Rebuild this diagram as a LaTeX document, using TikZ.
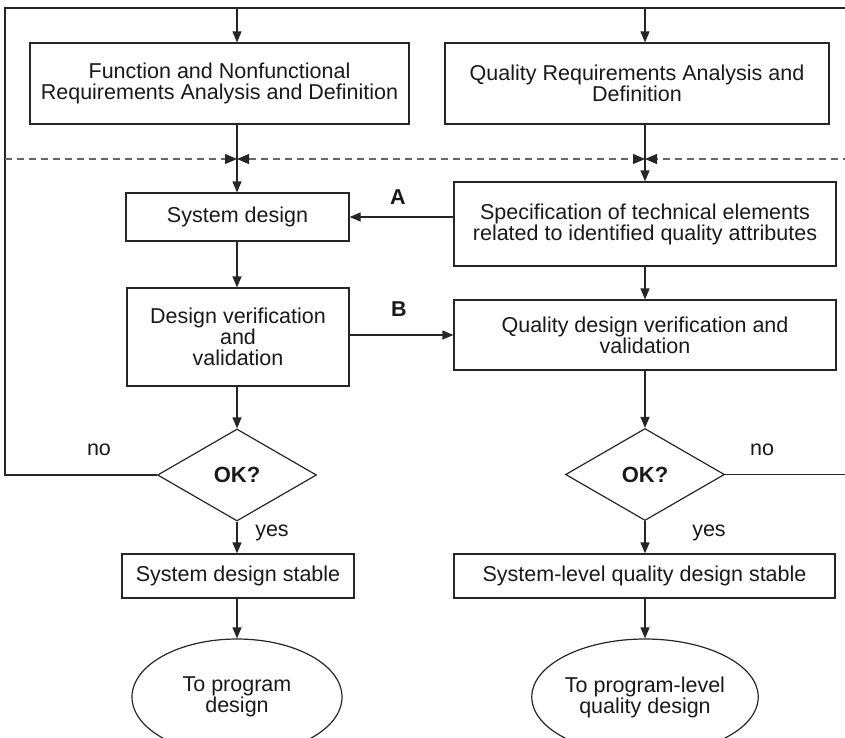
\documentclass[tikz,border=0pt]{standalone}
\usepackage{fontspec}
\setmainfont{Liberation Sans}
\usetikzlibrary{arrows.meta,shapes.geometric}

\begin{document}
\begin{tikzpicture}[x=1pt,y=-1pt,
  line width=1.2pt, draw=black!85,
  every node/.style={font=\fontsize{21.5}{21}\selectfont, text=black!90},
  box/.style={draw=black!85, align=center, inner sep=0pt},
  decision/.style={diamond, draw=black!85, inner sep=0pt,
    minimum width=159pt, minimum height=92pt,
    font=\fontsize{22}{22}\selectfont\bfseries},
  terminal/.style={ellipse, draw=black!85, inner sep=0pt, align=center,
    minimum width=210pt, minimum height=116pt},
  arr/.style={-{Triangle[length=11pt,width=9pt]}},
  sep/.style={draw=black!60, dash pattern=on 7pt off 5pt},
  septip/.tip={Triangle[length=12pt,width=10pt,color=black!85]},
  tag/.style={font=\fontsize{21.5}{21}\selectfont\bfseries}]

\clip (0,0) rectangle (845,737);

% column guides and frame corners
\coordinate (colL) at (237,0);
\coordinate (colR) at (645,0);
\coordinate (tl) at (5,8);
\coordinate (edgeR) at (850,8);
\coordinate (dl) at (5,159);
\coordinate (dr) at (850,159);

% boxes
\node[box, minimum width=379pt, minimum height=81pt] (fnr) at (219.5,83.5)
  {Function and Nonfunctional\\Requirements Analysis and Definition};
\node[box, minimum width=384pt, minimum height=81pt] (qra) at (637,83.5)
  {Quality Requirements Analysis and\\Definition};
\node[box, minimum width=223pt, minimum height=48pt] (sd) at (237.5,217)
  {System design};
\node[box, minimum width=382pt, minimum height=84pt] (spec) at (645,224)
  {Specification of technical elements\\related to identified quality attributes};
\node[box, minimum width=222pt, minimum height=98pt] (dvv) at (238,337)
  {Design verification\\and\\validation};
\node[box, minimum width=382pt, minimum height=70pt] (qdv) at (645,335)
  {Quality design verification and\\validation};
\node[decision] (okL) at (237,475) {OK?};
\node[decision] (okR) at (645,474.5) {OK?};
\node[box, minimum width=232pt, minimum height=44pt] (stL) at (238,576)
  {System design stable};
\node[box, minimum width=381pt, minimum height=44pt] (stR) at (644.5,576)
  {System-level quality design stable};
\node[terminal] (toL) at (237,697) {To program\\design};
\node[terminal] (toR) at (645,697) {To program-level\\quality design};

% labels
\node[tag] (lblA) at (398,197) {A};
\node[tag] (lblB) at (399,309) {B};
\node (noL) at (99,450) {no};
\node (noR) at (762,450) {no};
\node (yesL) at (272,533) {yes};
\node (yesR) at (709,533) {yes};

% feedback loops
\draw (okL.west) -| (tl) -- (edgeR);
\draw (okR.east) -- (okR.east -| edgeR);

% phase separator
\draw[sep, -septip] (dl) -- (dl -| colL);
\draw[sep, septip-septip] (dl -| colL) -- (dl -| colR);
\draw[sep, -septip] (dr) -- (dl -| colR);

% flow arrows
\draw[arr] (tl -| colL) -- (fnr.north -| colL);
\draw[arr] (tl -| colR) -- (qra.north -| colR);
\draw[arr] (fnr.south -| colL) -- (sd.north -| colL);
\draw[arr] (qra.south -| colR) -- (spec.north -| colR);
\draw[arr] (spec.west |- sd.east) -- (sd.east);
\draw[arr] (sd.south -| colL) -- (dvv.north -| colL);
\draw[arr] (spec.south -| colR) -- (qdv.north -| colR);
\draw[arr] (dvv.east |- qdv.west) -- (qdv.west);
\draw[arr] (dvv.south -| okL.north) -- (okL.north);
\draw[arr] (qdv.south -| okR.north) -- (okR.north);
\draw[arr] (okL.south) -- (stL.north -| okL.south);
\draw[arr] (okR.south) -- (stR.north -| okR.south);
\draw[arr] (stL.south -| toL.north) -- (toL.north);
\draw[arr] (stR.south -| toR.north) -- (toR.north);
\end{tikzpicture}
\end{document}
